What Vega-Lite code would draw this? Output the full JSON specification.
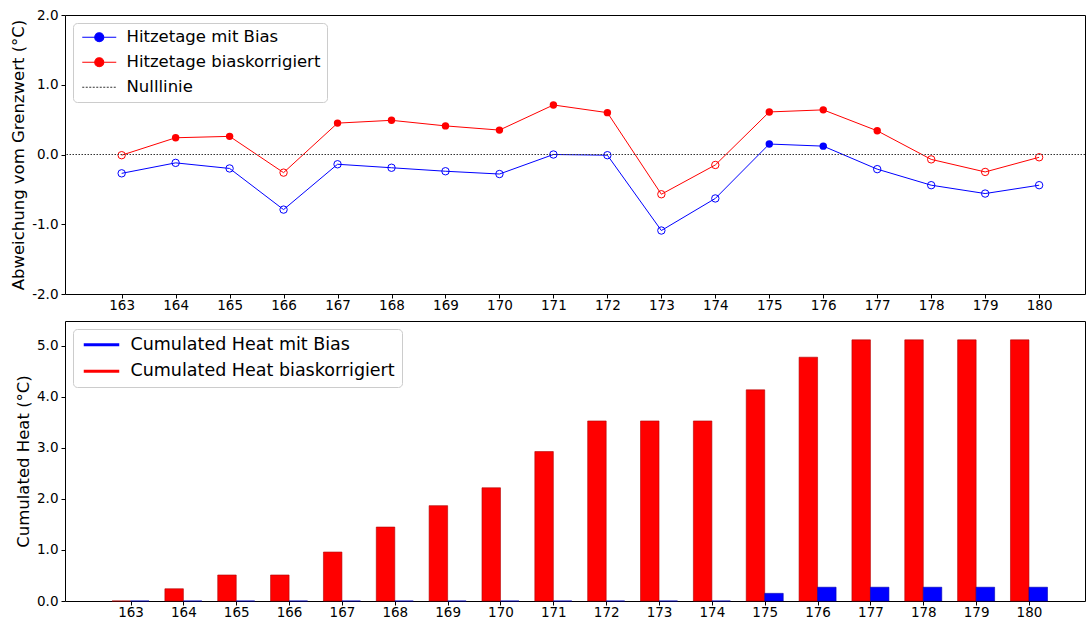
{
  "$schema": "https://vega.github.io/schema/vega-lite/v6.json",
  "padding": {"left": 10, "top": 7, "right": 1, "bottom": 0},
  "config": {
    "font": "DejaVu Sans",
    "view": {"stroke": "black", "strokeWidth": 1},
    "axis": {"grid": false, "domain": false, "tickColor": "black", "tickSize": 4, "labelColor": "black", "labelFontSize": 13.5, "titleFontSize": 16.5, "titleFontWeight": "normal", "titleColor": "black", "labelFont": "DejaVu Sans", "titleFont": "DejaVu Sans"},
    "axisX": {"labelPadding": 0, "labelFlush": false},
    "axisY": {"labelPadding": 3, "titlePadding": 5},
    "locale": {"number": {"decimal": ".", "thousands": ",", "grouping": [3], "currency": ["$", ""], "minus": "-"}}
  },
  "datasets": {
    "dev": [
      {"day": 163, "series": "Hitzetage mit Bias", "value": -0.27}, {"day": 163, "series": "Hitzetage biaskorrigiert", "value": -0.01},
      {"day": 164, "series": "Hitzetage mit Bias", "value": -0.12}, {"day": 164, "series": "Hitzetage biaskorrigiert", "value": 0.24},
      {"day": 165, "series": "Hitzetage mit Bias", "value": -0.20}, {"day": 165, "series": "Hitzetage biaskorrigiert", "value": 0.26},
      {"day": 166, "series": "Hitzetage mit Bias", "value": -0.79}, {"day": 166, "series": "Hitzetage biaskorrigiert", "value": -0.26},
      {"day": 167, "series": "Hitzetage mit Bias", "value": -0.14}, {"day": 167, "series": "Hitzetage biaskorrigiert", "value": 0.45},
      {"day": 168, "series": "Hitzetage mit Bias", "value": -0.19}, {"day": 168, "series": "Hitzetage biaskorrigiert", "value": 0.49},
      {"day": 169, "series": "Hitzetage mit Bias", "value": -0.24}, {"day": 169, "series": "Hitzetage biaskorrigiert", "value": 0.41},
      {"day": 170, "series": "Hitzetage mit Bias", "value": -0.28}, {"day": 170, "series": "Hitzetage biaskorrigiert", "value": 0.35},
      {"day": 171, "series": "Hitzetage mit Bias", "value": 0.0}, {"day": 171, "series": "Hitzetage biaskorrigiert", "value": 0.71},
      {"day": 172, "series": "Hitzetage mit Bias", "value": -0.01}, {"day": 172, "series": "Hitzetage biaskorrigiert", "value": 0.60},
      {"day": 173, "series": "Hitzetage mit Bias", "value": -1.09}, {"day": 173, "series": "Hitzetage biaskorrigiert", "value": -0.57},
      {"day": 174, "series": "Hitzetage mit Bias", "value": -0.63}, {"day": 174, "series": "Hitzetage biaskorrigiert", "value": -0.15},
      {"day": 175, "series": "Hitzetage mit Bias", "value": 0.15}, {"day": 175, "series": "Hitzetage biaskorrigiert", "value": 0.61},
      {"day": 176, "series": "Hitzetage mit Bias", "value": 0.12}, {"day": 176, "series": "Hitzetage biaskorrigiert", "value": 0.64},
      {"day": 177, "series": "Hitzetage mit Bias", "value": -0.21}, {"day": 177, "series": "Hitzetage biaskorrigiert", "value": 0.34},
      {"day": 178, "series": "Hitzetage mit Bias", "value": -0.44}, {"day": 178, "series": "Hitzetage biaskorrigiert", "value": -0.07},
      {"day": 179, "series": "Hitzetage mit Bias", "value": -0.56}, {"day": 179, "series": "Hitzetage biaskorrigiert", "value": -0.25},
      {"day": 180, "series": "Hitzetage mit Bias", "value": -0.44}, {"day": 180, "series": "Hitzetage biaskorrigiert", "value": -0.04}
    ],
    "cum": [
      {"day": 163, "series": "Cumulated Heat mit Bias", "value": 0}, {"day": 163, "series": "Cumulated Heat biaskorrigiert", "value": 0},
      {"day": 164, "series": "Cumulated Heat mit Bias", "value": 0}, {"day": 164, "series": "Cumulated Heat biaskorrigiert", "value": 0.24},
      {"day": 165, "series": "Cumulated Heat mit Bias", "value": 0}, {"day": 165, "series": "Cumulated Heat biaskorrigiert", "value": 0.51},
      {"day": 166, "series": "Cumulated Heat mit Bias", "value": 0}, {"day": 166, "series": "Cumulated Heat biaskorrigiert", "value": 0.51},
      {"day": 167, "series": "Cumulated Heat mit Bias", "value": 0}, {"day": 167, "series": "Cumulated Heat biaskorrigiert", "value": 0.96},
      {"day": 168, "series": "Cumulated Heat mit Bias", "value": 0}, {"day": 168, "series": "Cumulated Heat biaskorrigiert", "value": 1.45},
      {"day": 169, "series": "Cumulated Heat mit Bias", "value": 0}, {"day": 169, "series": "Cumulated Heat biaskorrigiert", "value": 1.87},
      {"day": 170, "series": "Cumulated Heat mit Bias", "value": 0}, {"day": 170, "series": "Cumulated Heat biaskorrigiert", "value": 2.22},
      {"day": 171, "series": "Cumulated Heat mit Bias", "value": 0}, {"day": 171, "series": "Cumulated Heat biaskorrigiert", "value": 2.93},
      {"day": 172, "series": "Cumulated Heat mit Bias", "value": 0}, {"day": 172, "series": "Cumulated Heat biaskorrigiert", "value": 3.53},
      {"day": 173, "series": "Cumulated Heat mit Bias", "value": 0}, {"day": 173, "series": "Cumulated Heat biaskorrigiert", "value": 3.53},
      {"day": 174, "series": "Cumulated Heat mit Bias", "value": 0}, {"day": 174, "series": "Cumulated Heat biaskorrigiert", "value": 3.53},
      {"day": 175, "series": "Cumulated Heat mit Bias", "value": 0.15}, {"day": 175, "series": "Cumulated Heat biaskorrigiert", "value": 4.14},
      {"day": 176, "series": "Cumulated Heat mit Bias", "value": 0.27}, {"day": 176, "series": "Cumulated Heat biaskorrigiert", "value": 4.78},
      {"day": 177, "series": "Cumulated Heat mit Bias", "value": 0.27}, {"day": 177, "series": "Cumulated Heat biaskorrigiert", "value": 5.12},
      {"day": 178, "series": "Cumulated Heat mit Bias", "value": 0.27}, {"day": 178, "series": "Cumulated Heat biaskorrigiert", "value": 5.12},
      {"day": 179, "series": "Cumulated Heat mit Bias", "value": 0.27}, {"day": 179, "series": "Cumulated Heat biaskorrigiert", "value": 5.12},
      {"day": 180, "series": "Cumulated Heat mit Bias", "value": 0.27}, {"day": 180, "series": "Cumulated Heat biaskorrigiert", "value": 5.12}
    ]
  },
  "spacing": 8,
  "resolve": {"scale": {"color": "independent", "x": "independent"}, "legend": {"color": "independent"}},
  "vconcat": [
    {
      "width": 1020,
      "height": 279,
      "layer": [
        {
          "data": {"name": "dev"},
          "mark": {"type": "line", "strokeWidth": 1},
          "encoding": {
            "x": {"field": "day", "type": "quantitative", "scale": {"domain": [161.95, 180.85], "nice": false, "zero": false, "padding": 0}, "axis": {"values": [163,164,165,166,167,168,169,170,171,172,173,174,175,176,177,178,179,180], "format": "d", "title": null}},
            "y": {"field": "value", "type": "quantitative", "scale": {"domain": [-2, 2], "nice": false}, "axis": {"values": [-2, -1, 0, 1, 2], "format": ".1f", "title": "Abweichung vom Grenzwert (°C)"}},
            "color": {
              "field": "series", "type": "nominal",
              "scale": {"domain": ["Hitzetage mit Bias", "Hitzetage biaskorrigiert", "Nulllinie"], "range": ["#0000ff", "#ff0000", "#333333"]},
              "legend": {
                "title": null, "orient": "top-left", "offset": 8, "padding": 6, "rowPadding": 8,
                "labelFontSize": 16.5, "labelFont": "DejaVu Sans", "labelColor": "black", "labelLimit": 0,
                "symbolSize": 100, "labelOffset": 31,
                "strokeColor": "#cccccc", "fillColor": "white", "cornerRadius": 4,
                "encode": {"symbols": {"update": {
                  "shape": {"signal": "datum.value === 'Nulllinie' ? 'M-1,0H-0.6M-0.3,0H0.1M0.4,0H0.8M1.1,0H1.5M1.8,0H2.2M2.5,0H2.9M3.2,0H3.6M3.9,0H4.3M4.6,0H5M5.3,0H5.7' : 'M-1,0H1.5M3.3,0H5.8M3.3,0A0.9,0.9 0 1 1 1.5,0A0.9,0.9 0 1 1 3.3,0Z'"},
                  "stroke": {"signal": "datum.value === 'Nulllinie' ? '#333333' : (datum.value === 'Hitzetage mit Bias' ? '#0000ff' : '#ff0000')"},
                  "fill": {"signal": "datum.value === 'Nulllinie' ? 'transparent' : (datum.value === 'Hitzetage mit Bias' ? '#0000ff' : '#ff0000')"},
                  "strokeWidth": {"value": 1.2},
                  "opacity": {"value": 1}
                }}}
              }
            }
          }
        },
        {
          "data": {"name": "dev"},
          "transform": [{"filter": "datum.value > 0"}],
          "mark": {"type": "point", "shape": "circle", "filled": true, "size": 55, "opacity": 1},
          "encoding": {
            "x": {"field": "day", "type": "quantitative"},
            "y": {"field": "value", "type": "quantitative"},
            "color": {"field": "series", "type": "nominal"}
          }
        },
        {
          "data": {"name": "dev"},
          "transform": [{"filter": "datum.value <= 0"}],
          "mark": {"type": "point", "shape": "circle", "filled": false, "size": 55, "strokeWidth": 1, "opacity": 1},
          "encoding": {
            "x": {"field": "day", "type": "quantitative"},
            "y": {"field": "value", "type": "quantitative"},
            "color": {"field": "series", "type": "nominal"}
          }
        },
        {
          "data": {"values": [{"label": "Nulllinie"}]},
          "mark": {"type": "rule", "strokeDash": [1.5, 1.5], "color": "#333333", "strokeWidth": 1},
          "encoding": {"y": {"datum": 0, "type": "quantitative"}}
        }
      ]
    },
    {
      "width": 1020,
      "height": 280,
      "data": {"name": "cum"},
      "encoding": {
        "x": {"field": "day", "type": "quantitative", "scale": {"domain": [161.76, 181.06], "nice": false, "zero": false, "padding": 0}, "axis": {"values": [163,164,165,166,167,168,169,170,171,172,173,174,175,176,177,178,179,180], "format": "d", "title": null}},
        "y": {"field": "value", "type": "quantitative", "scale": {"domain": [0, 5.49], "nice": false}, "axis": {"values": [0, 1, 2, 3, 4, 5], "format": ".1f", "title": "Cumulated Heat (°C)"}},
        "color": {
          "field": "series", "type": "nominal",
          "scale": {"domain": ["Cumulated Heat mit Bias", "Cumulated Heat biaskorrigiert"], "range": ["#0000ff", "#ff0000"]},
          "legend": {
            "title": null, "orient": "top-left", "offset": 8, "padding": 7, "rowPadding": 7.5,
            "labelFontSize": 17.5, "labelFont": "DejaVu Sans", "labelColor": "black", "labelLimit": 0,
            "symbolSize": 100, "labelOffset": 33,
            "symbolType": "M-1,-0.3H6.1V0.3H-1Z", "symbolStrokeWidth": 0,
            "strokeColor": "#cccccc", "fillColor": "white", "cornerRadius": 4
          }
        }
      },
      "layer": [
        {
          "transform": [{"filter": "datum.series === 'Cumulated Heat biaskorrigiert'"}],
          "mark": {"type": "bar", "orient": "vertical", "width": 18.5, "xOffset": -9.25, "stroke": "#b00000", "strokeWidth": 0.6}
        },
        {
          "transform": [{"filter": "datum.series === 'Cumulated Heat mit Bias'"}],
          "mark": {"type": "bar", "orient": "vertical", "width": 18.5, "xOffset": 9.25, "stroke": "#0000b0", "strokeWidth": 0.6}
        }
      ]
    }
  ]
}
